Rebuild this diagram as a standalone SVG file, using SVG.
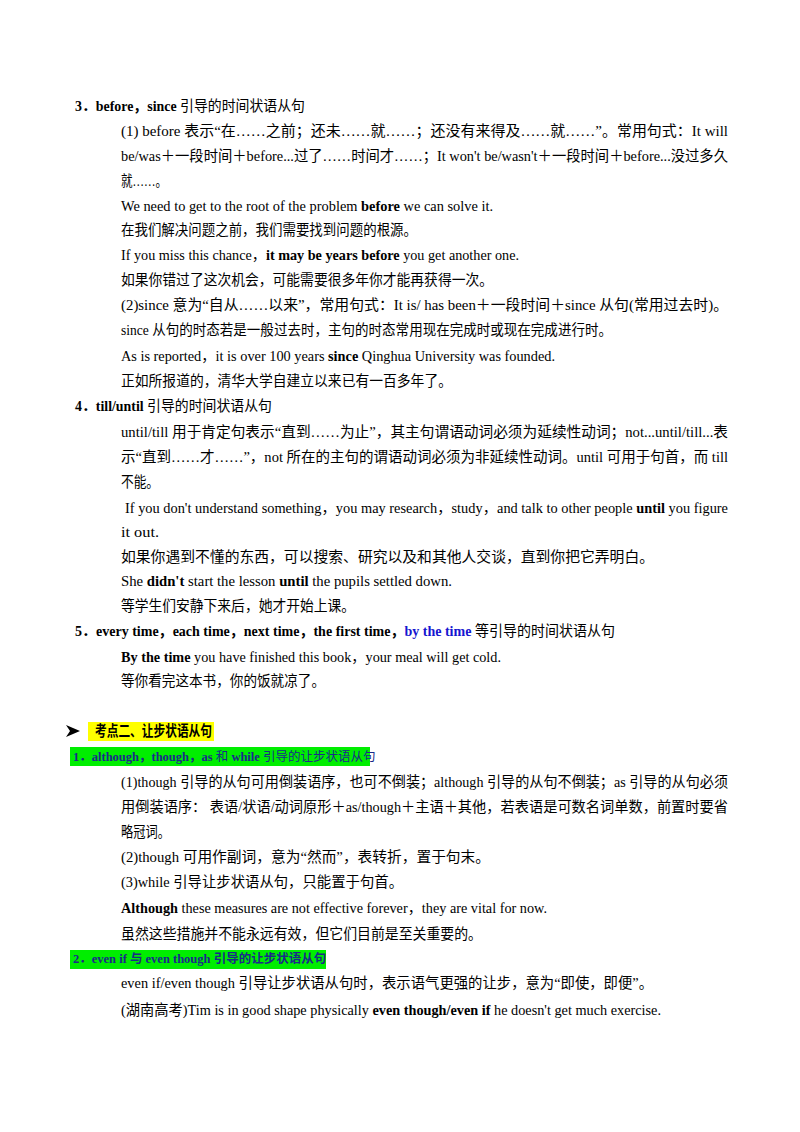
<svg xmlns="http://www.w3.org/2000/svg" width="800" height="1132" viewBox="0 0 800 1132">
<style>
text{font-family:"Liberation Serif","Noto Sans CJK SC",serif;font-size:14.5px;fill:#000}
.b{font-weight:bold}
.bl{fill:#1515d0;font-weight:bold}
.db{fill:#1a2a8a;font-size:12.5px}
</style>
<rect width="800" height="1132" fill="#fff"/>
<g id="sec3">
<text x="75" y="111" textLength="230" lengthAdjust="spacingAndGlyphs"><tspan class="b">3．before，since</tspan> 引导的时间状语从句</text>
<text x="121" y="136" textLength="607" lengthAdjust="spacingAndGlyphs">(1) before 表示“在……之前；还未……就……；还没有来得及……就……”。常用句式：It will</text>
<text x="121" y="161" textLength="607" lengthAdjust="spacingAndGlyphs">be/was＋一段时间＋before...过了……时间才……；It won't be/wasn't＋一段时间＋before...没过多久</text>
<text x="121" y="186" textLength="46" lengthAdjust="spacingAndGlyphs">就……。</text>
<text x="121" y="211" textLength="372" lengthAdjust="spacingAndGlyphs">We need to get to the root of the problem  <tspan class="b">before</tspan>  we can solve it.</text>
<text x="121" y="235" textLength="296" lengthAdjust="spacingAndGlyphs">在我们解决问题之前，我们需要找到问题的根源。</text>
<text x="121" y="260" textLength="398" lengthAdjust="spacingAndGlyphs">If you miss this chance，<tspan class="b">it may be years before</tspan>  you get another one.</text>
<text x="121" y="285" textLength="372" lengthAdjust="spacingAndGlyphs">如果你错过了这次机会，可能需要很多年你才能再获得一次。</text>
<text x="121" y="310" textLength="607" lengthAdjust="spacingAndGlyphs">(2)since 意为“自从……以来”，常用句式：It is/ has been＋一段时间＋since 从句(常用过去时)。</text>
<text x="121" y="335" textLength="491" lengthAdjust="spacingAndGlyphs">since 从句的时态若是一般过去时，主句的时态常用现在完成时或现在完成进行时。</text>
<text x="121" y="361" textLength="434" lengthAdjust="spacingAndGlyphs">As is reported，it is over 100 years  <tspan class="b">since</tspan>  Qinghua University was founded.</text>
<text x="121" y="386" textLength="331" lengthAdjust="spacingAndGlyphs">正如所报道的，清华大学自建立以来已有一百多年了。</text>
</g>
<g id="sec4">
<text x="75" y="411" textLength="197" lengthAdjust="spacingAndGlyphs"><tspan class="b">4．till/until</tspan> 引导的时间状语从句</text>
<text x="121" y="437" textLength="607" lengthAdjust="spacingAndGlyphs">until/till 用于肯定句表示“直到……为止”，其主句谓语动词必须为延续性动词；not...until/till...表</text>
<text x="121" y="462" textLength="607" lengthAdjust="spacingAndGlyphs">示“直到……才……”，not 所在的主句的谓语动词必须为非延续性动词。until 可用于句首，而 till</text>
<text x="121" y="487" textLength="38" lengthAdjust="spacingAndGlyphs">不能。</text>
<text x="125" y="513" textLength="603" lengthAdjust="spacingAndGlyphs">If you don't understand something，you may research，study，and talk to other people  <tspan class="b">until</tspan>  you figure</text>
<text x="121" y="537" textLength="38" lengthAdjust="spacingAndGlyphs">it out.</text>
<text x="121" y="562" textLength="533" lengthAdjust="spacingAndGlyphs">如果你遇到不懂的东西，可以搜索、研究以及和其他人交谈，直到你把它弄明白。</text>
<text x="121" y="586" textLength="331" lengthAdjust="spacingAndGlyphs">She  <tspan class="b">didn't</tspan>  start the lesson  <tspan class="b">until</tspan>  the pupils settled down.</text>
<text x="121" y="611" textLength="234" lengthAdjust="spacingAndGlyphs">等学生们安静下来后，她才开始上课。</text>
</g>
<g id="sec5">
<text x="75" y="636" textLength="540" lengthAdjust="spacingAndGlyphs"><tspan class="b">5．every time，each time，next time，the first time，</tspan><tspan class="bl">by the time</tspan> 等引导的时间状语从句</text>
<text x="121" y="662" textLength="380" lengthAdjust="spacingAndGlyphs"><tspan class="b">By the time</tspan>  you have finished this book，your meal will get cold.</text>
<text x="121" y="686" textLength="204" lengthAdjust="spacingAndGlyphs">等你看完这本书，你的饭就凉了。</text>
</g>
<g id="kaodian2">
<polygon points="66,725 80,731 66,737 70,731" fill="#000"/>
<rect x="88" y="722" width="126" height="19" fill="#ffff00"/>
<text x="95" y="736" class="b" textLength="117" lengthAdjust="spacingAndGlyphs">考点二、让步状语从句</text>
<rect x="70" y="747" width="300" height="19" fill="#00ee00"/>
<text x="73" y="761" class="db"><tspan class="b">1．although，though，as</tspan> 和 <tspan class="b">while</tspan> 引导的让步状语从句</text>
<text x="121" y="787" textLength="607" lengthAdjust="spacingAndGlyphs">(1)though 引导的从句可用倒装语序，也可不倒装；although 引导的从句不倒装；as 引导的从句必须</text>
<text x="121" y="812" textLength="607" lengthAdjust="spacingAndGlyphs">用倒装语序： 表语/状语/动词原形＋as/though＋主语＋其他，若表语是可数名词单数，前置时要省</text>
<text x="121" y="837" textLength="49" lengthAdjust="spacingAndGlyphs">略冠词。</text>
<text x="121" y="862" textLength="369" lengthAdjust="spacingAndGlyphs">(2)though 可用作副词，意为“然而”，表转折，置于句末。</text>
<text x="121" y="887" textLength="282" lengthAdjust="spacingAndGlyphs">(3)while 引导让步状语从句，只能置于句首。</text>
<text x="121" y="913" textLength="426" lengthAdjust="spacingAndGlyphs"><tspan class="b">Although</tspan>  these measures are not effective forever，they are vital for now.</text>
<text x="121" y="939" textLength="361" lengthAdjust="spacingAndGlyphs">虽然这些措施并不能永远有效，但它们目前是至关重要的。</text>
<rect x="70" y="950" width="256" height="19" fill="#00ee00"/>
<text x="73" y="963" class="db b">2．even if 与 even though  引导的让步状语从句</text>
<text x="121" y="988" textLength="532" lengthAdjust="spacingAndGlyphs">even if/even though 引导让步状语从句时，表示语气更强的让步，意为“即使，即便”。</text>
<text x="121" y="1015" textLength="540" lengthAdjust="spacingAndGlyphs">(湖南高考)Tim is in good shape physically  <tspan class="b">even though/even if</tspan>  he doesn't get much exercise.</text>
</g>
</svg>
